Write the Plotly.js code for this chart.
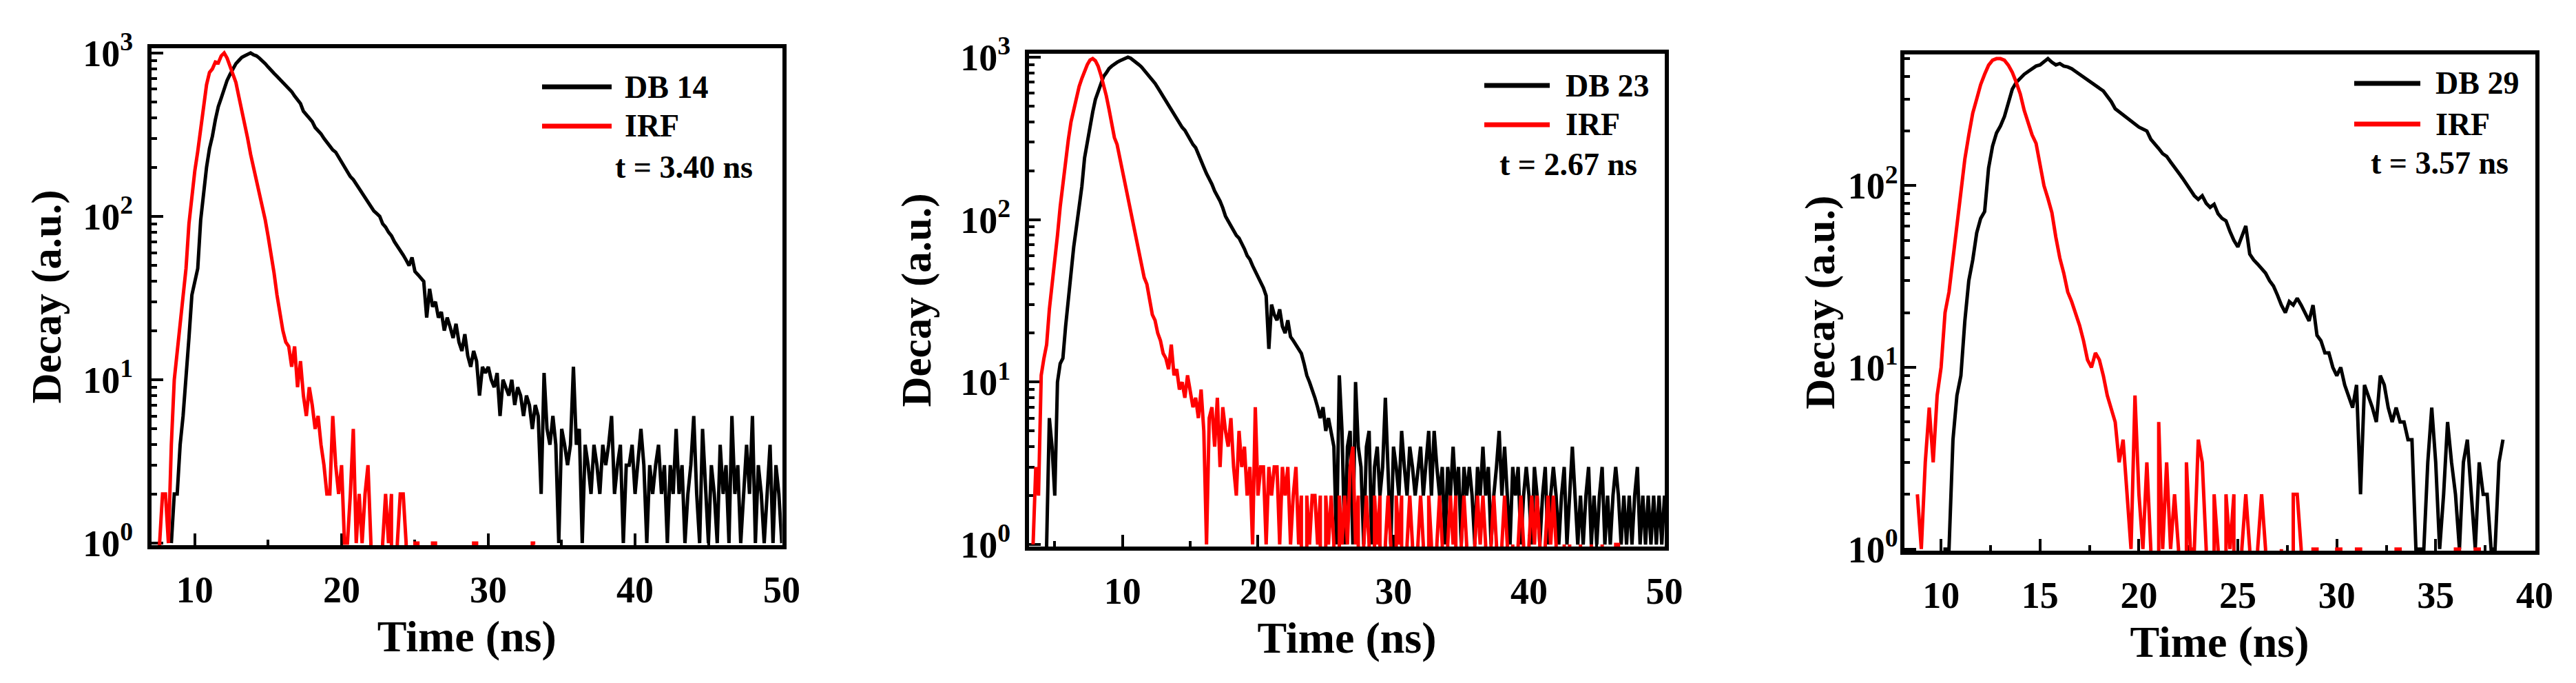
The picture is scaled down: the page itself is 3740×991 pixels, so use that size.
<!DOCTYPE html>
<html>
<head>
<meta charset="utf-8">
<script src="https://cdn.plot.ly/plotly-3.0.1.min.js"></script>
<style>
html,body{margin:0;padding:0;background:#ffffff;}
#chart{width:3740px;height:991px;}
</style>
</head>
<body>
<div id="chart"></div>
<script>
// ---------------- DATA ----------------
const channelWidth = 0.2; // ns per channel
const sampleNames = ['DB 14', 'DB 23', 'DB 29'];
const irfName = 'IRF';
const lifetimeLabels = ['t = 3.40 ns', 't = 2.67 ns', 't = 3.57 ns'];
const xTitle = 'Time (ns)';
const yTitle = 'Decay (a.u.)';
const yTickVals = [1, 10, 100, 1000];
const yTickText = ['10<sup>0</sup>', '10<sup>1</sup>', '10<sup>2</sup>', '10<sup>3</sup>'];

// Panel 1 : DB 14
const db14Start = 8.4;
const db14Counts = [
  1,2,2,4,6,10,18,33,40,48,
  95,140,200,260,310,390,470,530,600,680,
  740,800,860,900,940,960,985,1000,975,960,
  930,900,860,820,790,750,720,690,660,630,
  600,580,545,520,490,440,420,400,380,350,
  336,320,300,285,270,255,247,230,215,200,
  188,175,168,158,148,138,130,122,115,108,
  104,100,90,86,80,76,70,66,62,58,
  54,50,56,46,44,42,40,24,36,28,
  30,24,26,20,24,21,18,22,17,15,
  19,14,12,15,13,8,12,11,12,10,
  9,11,6,10,9,8,10,7,9,8,
  6,8,7,5,7,6,2,11,5,4,
  6,4,1,5,4,3,4,12,4,5,
  1,4,3,2,4,3,2,4,3,4,
  6,2,3,4,1,3,3,4,2,3,
  5,3,1,3,2,3,4,2,3,1,
  3,2,5,2,3,1,2,3,6,2,
  1,5,2,1,3,2,1,4,2,3,
  1,6,2,3,1,2,4,2,6,1,
  3,2,1,2,4,1,3,2,1
];
const irf1Start = 7.4;
const irf1Counts = [
  0,1,2,2,1,4,10,15,22,33,
  48,90,135,190,250,350,470,640,760,800,
  880,870,960,1000,930,820,740,660,540,450,
  380,300,240,200,165,135,115,95,75,60,
  45,33,26,20,17,16,12,16,9,13,
  8,6,9,7,5,6,4,3,2,2,
  6,3,2,3,1,1,2,5,1,2,
  1,2,3,1,0,0,0,1,2,1,
  2,0,1,2,2,1,0,0,1,1,
  0,0,0,0,1,1,0,0,0,0,
  0,0,0,0,0,0,0,0,1,1,
  0,0,0,0,0,0,0,0,0,0,
  0,0,0,0,0,0,0,0,1,1
];

// Panel 2 : DB 23
const db23Start = 4.2;
const db23Counts = [
  0,1,6,4,2,10,13,14,22,33,
  48,68,90,118,160,240,300,390,460,550,
  620,700,760,800,850,880,910,930,950,970,
  990,1000,985,960,930,900,870,830,800,760,
  730,690,650,610,580,540,510,470,450,420,
  395,370,355,330,310,290,277,250,230,210,
  192,180,165,150,141,130,118,105,98,92,
  85,80,77,72,66,60,57,52,48,45,
  42,38,34,16,30,26,24,28,22,20,
  24,19,18,17,16,15,13,11,10,9,
  8,7,6,7,5,6,5,4,1,11,
  5,1,4,5,1,10,4,3,1,4,
  5,1,3,4,2,3,8,3,1,4,
  3,2,5,3,2,4,3,2,3,4,
  2,3,5,2,5,3,2,3,1,3,
  2,4,2,3,1,3,2,3,2,1,
  3,2,4,2,3,1,2,3,5,2,
  4,2,1,3,2,3,1,2,3,2,
  1,3,2,1,2,3,1,2,3,2,
  1,2,3,1,2,4,2,1,2,1,
  2,3,1,2,1,2,3,1,2,1,
  2,3,2,1,2,1,2,1,2,3,
  1,2,1,2,1,2,1,2,1,2
];
const irf2Start = 3.4;
const irf2Counts = [
  1,3,2,11,14,17,28,39,55,80,
  120,170,240,310,400,480,560,660,740,830,
  900,960,980,950,880,780,680,580,480,400,
  320,290,240,200,165,140,110,92,76,62,
  52,44,40,33,26,24,20,18,15,14,
  12,17,11,12,9,10,8,11,9,7,
  8,6,9,5,1,6,7,4,8,3,
  7,5,4,6,3,2,5,3,4,2,
  3,1,7,2,3,3,1,3,2,3,
  3,1,3,2,3,1,2,3,1,2,
  0,2,1,2,2,1,2,0,2,1,
  2,1,0,2,1,2,1,3,4,1,
  2,0,1,2,1,0,2,1,2,0,
  1,2,1,0,2,1,2,0,1,2,
  1,0,1,2,1,0,2,1,0,1,
  2,1,0,1,2,1,2,0,1,2,
  1,0,0,1,2,1,2,1,0,1,
  2,1,0,1,2,1,0,1,0,1,
  2,1,0,1,2,1,2,1,0,1,
  2,1,2,1,0,0,1,0,1,0,
  0,0,1,0,0,0,1,0,0,0,
  1,0,0,0,0,1,1,0,0,0
];

// Panel 3 : DB 29
const db29Start = 10.0;
const db29Counts = [
  0,1,1,4,7,9,18,30,39,55,
  66,72,125,165,195,213,240,290,340,370,
  392,410,425,440,455,462,480,500,478,462,
  470,455,450,440,425,410,400,385,370,360,
  345,332,310,290,265,255,245,235,225,218,
  210,205,200,180,171,160,150,145,135,125,
  118,110,102,95,88,84,88,80,76,79,
  70,66,64,56,50,46,52,60,42,39,
  37,35,33,30,28,25,22,20,23,22,
  24,22,20,18,22,15,14,12,12,10,
  9,10,8,7,6,8,2,8,7,6,
  5,9,8,6,5,6,5,5,4,4,
  1,1,1,3,6,3,1,2,5,3,
  2,1,3,4,2,1,3,2,2,1,
  1,3,4
];
const irf3Start = 8.8;
const irf3Counts = [
  2,1,3,6,3,7,10,20,26,40,
  64,95,140,190,251,300,360,410,460,490,
  500,500,490,460,420,370,320,260,225,190,
  171,130,100,85,71,52,40,33,26,23,
  20,17,14,11,10,12,11,9,7,6,
  5,3,4,2,1,7,2,1,3,1,
  0,5,1,3,1,2,1,0,3,1,
  1,4,3,1,0,2,1,0,2,1,
  2,0,1,2,1,0,1,2,1,0,
  0,0,1,0,0,2,2,1,0,0,
  1,1,0,0,0,0,1,1,0,0,
  0,1,1,0,0,0,0,0,0,0,
  0,1,1,0,0,0,0,0,0,0,
  0,0,0,0,0,0,1,1,0,0,
  0,1,1,0,0,0,0
];

// ---------------- BUILD ----------------
const W = 3740, H = 991;
const FONT = 'Liberation Serif, "Times New Roman", Times, serif';
const BLACK = '#000000', RED = '#ff0000';

function timesFor(start, counts) {
  return counts.map((_, i) => Math.round((start + i * channelWidth) * 100) / 100);
}

const panelData = [
  {sample: [db14Start, db14Counts], irf: [irf1Start, irf1Counts]},
  {sample: [db23Start, db23Counts], irf: [irf2Start, irf2Counts]},
  {sample: [db29Start, db29Counts], irf: [irf3Start, irf3Counts]}
];

// layout geometry (pixels of the plot area inside the frame lines)
const geom = [
  {x0: 220, x1: 1135.5, y0: 70, y1: 791, xr: [7.05, 50.02], yr: [-0.0126, 3.029], dtick: 10, minor: 5, ystand: 10, ytitle: 14,
   leg: {lx0: 787, lx1: 888, ly1: 126, ly2: 183, tx: 905, lt: 891, lty: 242}},
  {x0: 1494, x1: 2417, y0: 78, y1: 793, xr: [3.1, 50.02], yr: [-0.0126, 3.021], dtick: 10, minor: 5, ystand: 10, ytitle: 25,
   leg: {lx0: 2155, lx1: 2250, ly1: 124, ly2: 181, tx: 2271, lt: 2175, lty: 239}},
  {x0: 2764.5, x1: 3680.5, y0: 78.5, y1: 799, xr: [8.13, 40.02], yr: [-0.009, 2.724], dtick: 5, minor: 2.5, ystand: -8, ytitle: 1,
   leg: {lx0: 3418, lx1: 3514, ly1: 121, ly2: 180, tx: 3534, lt: 3440, lty: 237}}
];

const minorLogVals = [];
[1, 10, 100].forEach(d => { for (let k = 2; k <= 9; k++) minorLogVals.push(k * d); });

const traces = [];
const layout = {
  width: W, height: H,
  margin: {l: 0, r: 0, t: 0, b: 0},
  paper_bgcolor: '#ffffff', plot_bgcolor: '#ffffff',
  showlegend: false,
  font: {family: FONT, color: BLACK, weight: 'bold'},
  shapes: [], annotations: []
};

geom.forEach((g, i) => {
  const n = i + 1;
  const xa = 'x' + (n === 1 ? '' : n), ya = 'y' + (n === 1 ? '' : n);
  const xk = 'xaxis' + (n === 1 ? '' : n), yk = 'yaxis' + (n === 1 ? '' : n);
  const pd = panelData[i];
  traces.push({
    type: 'scatter', mode: 'lines', name: sampleNames[i],
    x: timesFor(pd.sample[0], pd.sample[1]), y: pd.sample[1],
    xaxis: xa, yaxis: ya, line: {color: BLACK, width: 5}, connectgaps: false
  });
  traces.push({
    type: 'scatter', mode: 'lines', name: irfName,
    x: timesFor(pd.irf[0], pd.irf[1]), y: pd.irf[1],
    xaxis: xa, yaxis: ya, line: {color: RED, width: 5}, connectgaps: false
  });

  layout[xk] = {
    domain: [g.x0 / W, g.x1 / W], anchor: ya, range: g.xr,
    showline: true, mirror: true, linewidth: 6, linecolor: BLACK,
    showgrid: false, zeroline: false,
    tickmode: 'linear', tick0: 0, dtick: g.dtick,
    ticks: 'inside', ticklen: 17, tickwidth: 4, tickcolor: BLACK,
    minor: {ticks: 'inside', ticklen: 8, tickwidth: 4, tickcolor: BLACK, tick0: 0, dtick: g.minor, showgrid: false},
    tickfont: {family: FONT, size: 54, color: BLACK, weight: 'bold'},
    ticklabelstandoff: 12,
    title: {text: xTitle, font: {family: FONT, size: 64, color: BLACK, weight: 'bold'}, standoff: 17},
    layer: 'below traces', fixedrange: true
  };
  layout[yk] = {
    domain: [1 - g.y1 / H, 1 - g.y0 / H], anchor: xa, type: 'log', range: g.yr,
    showline: true, mirror: true, linewidth: 6, linecolor: BLACK,
    showgrid: false, zeroline: false,
    tickmode: 'array', tickvals: yTickVals, ticktext: yTickText,
    ticks: 'inside', ticklen: 17, tickwidth: 4, tickcolor: BLACK,
    minor: {ticks: 'inside', ticklen: 8, tickwidth: 4, tickcolor: BLACK, tickmode: 'array', tickvals: minorLogVals, showgrid: false},
    tickfont: {family: FONT, size: 54, color: BLACK, weight: 'bold'},
    ticklabelstandoff: g.ystand,
    title: {text: yTitle, font: {family: FONT, size: 61, color: BLACK, weight: 'bold'}, standoff: g.ytitle},
    layer: 'below traces', fixedrange: true
  };

  // custom legend (line keys + labels), placed inside the frame at top right
  const L = g.leg;
  layout.shapes.push({type: 'line', xref: 'paper', yref: 'paper', x0: L.lx0 / W, x1: L.lx1 / W, y0: 1 - L.ly1 / H, y1: 1 - L.ly1 / H, line: {color: BLACK, width: 7}});
  layout.shapes.push({type: 'line', xref: 'paper', yref: 'paper', x0: L.lx0 / W, x1: L.lx1 / W, y0: 1 - L.ly2 / H, y1: 1 - L.ly2 / H, line: {color: RED, width: 7}});
  const af = {family: FONT, size: 46, color: BLACK, weight: 'bold'};
  layout.annotations.push({xref: 'paper', yref: 'paper', x: L.tx / W, y: 1 - L.ly1 / H, xanchor: 'left', yanchor: 'middle', text: sampleNames[i], showarrow: false, font: af});
  layout.annotations.push({xref: 'paper', yref: 'paper', x: L.tx / W, y: 1 - L.ly2 / H, xanchor: 'left', yanchor: 'middle', text: irfName, showarrow: false, font: af});
  layout.annotations.push({xref: 'paper', yref: 'paper', x: L.lt / W, y: 1 - L.lty / H, xanchor: 'left', yanchor: 'middle', text: lifetimeLabels[i], showarrow: false, font: af});
});

Plotly.newPlot('chart', traces, layout, {displayModeBar: false, staticPlot: true});
</script>
</body>
</html>
